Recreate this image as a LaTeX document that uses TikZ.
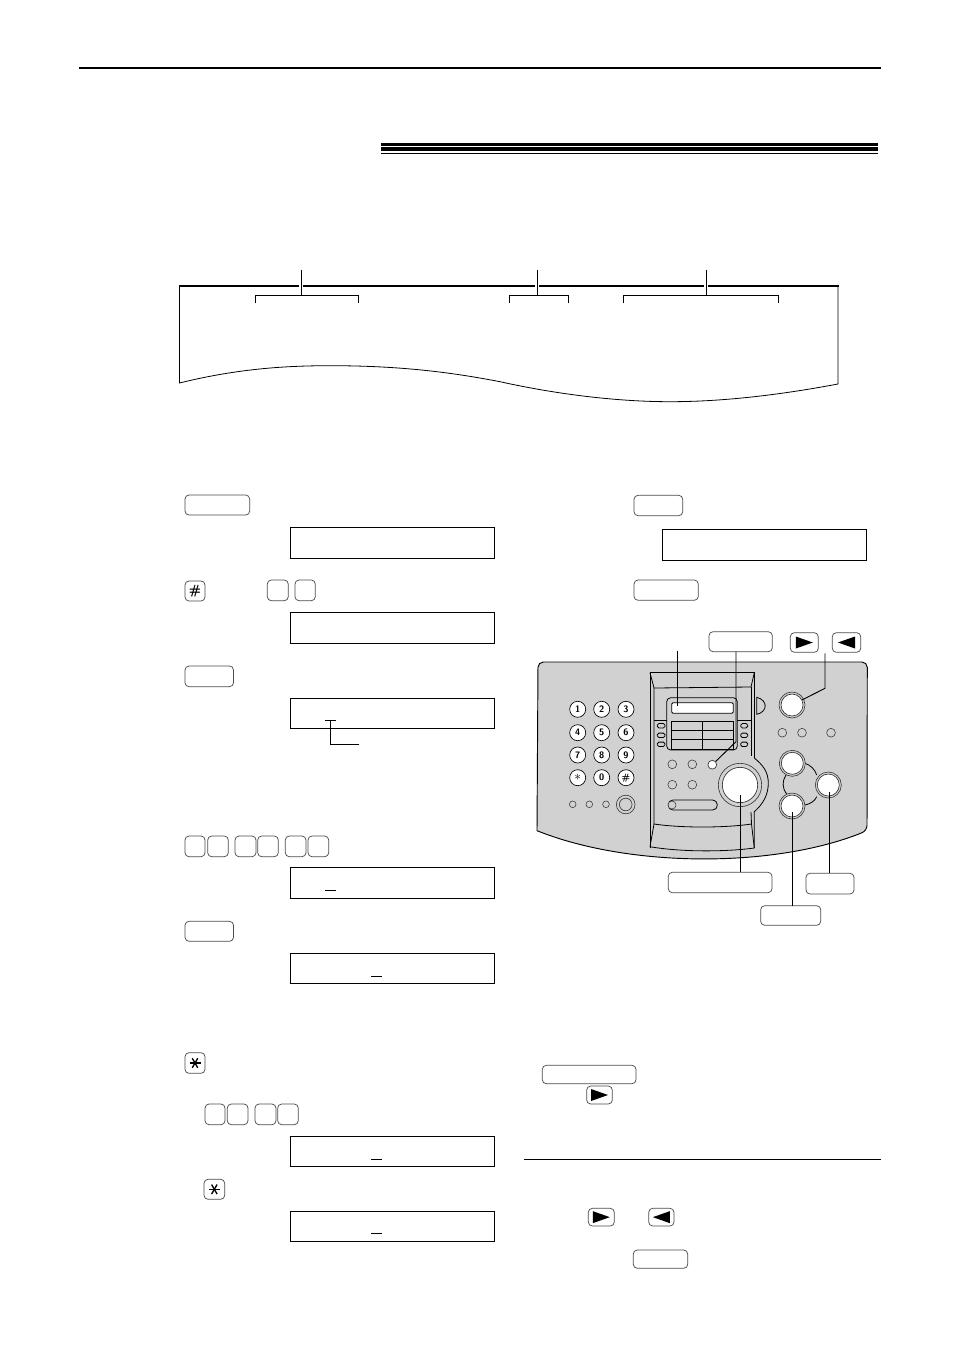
\documentclass[tikz,border=0pt]{standalone}
\usepackage{amsmath,amssymb,amsfonts}
\definecolor{panelgray}{gray}{0.82}
\newcommand{\keyat}[5]{\node[keybox,minimum width={(#4-#2)*.75pt},minimum height={(#5-#3)*.75pt}] (#1) at ({(#2+#4)/2},{(#3+#5)/2}) {};}
\newcommand{\lcdat}[5]{\node[lcdbox,minimum width={(#4-#2)*.75pt},minimum height={(#5-#3)*.75pt}] (#1) at ({(#2+#4)/2},{(#3+#5)/2}) {};}
\newcommand{\starmark}[1]{\foreach \a in {0,60,120} \draw[line width=1pt] ([shift={(\a:5.5)}]#1.center) -- ([shift={({\a+180}:5.5)}]#1.center);}
\newcommand{\righttri}[1]{\fill ([shift={(-8.5,-6)}]#1.center) -- ([shift={(8.5,0)}]#1.center) -- ([shift={(-8.5,6)}]#1.center) -- cycle;}
\newcommand{\lefttri}[1]{\fill ([shift={(8.5,-6)}]#1.center) -- ([shift={(-8.5,0)}]#1.center) -- ([shift={(8.5,6)}]#1.center) -- cycle;}
\tikzset{
  keybox/.style={draw=black!70,line width=.55pt,rounded corners=3pt,inner sep=0pt,outer sep=0pt},
  lcdbox/.style={draw,line width=.75pt,inner sep=0pt,outer sep=0pt},
  thinline/.style={line width=.6pt},
  leader/.style={line width=.7pt},
  padkey/.style={circle,draw,fill=white,line width=.5pt,minimum size=12pt,inner sep=0pt,font=\sffamily\bfseries\scriptsize},
  smallkey/.style={circle,draw=black!80,fill=panelgray,line width=.4pt,minimum size=6.6pt,inner sep=0pt},
  ringkey/.style={circle,draw=black!80,fill=panelgray,line width=.45pt,inner sep=0pt},
  whitekey/.style={circle,draw=black!80,fill=white,line width=.5pt,inner sep=0pt}
}
\begin{document}
\begin{tikzpicture}[x=.75pt,y=-.75pt]
  \path[fill=white,use as bounding box] (0,0) rectangle (954,1349);
  \draw[line width=1.1pt] (79,68) -- (881,68);
  \fill (381,143) rectangle (878,145.7);
  \fill (381,146.7) rectangle (878,151.3);
  \fill (381,152.7) rectangle (878,154);

  \draw[thinline] (179.5,286) -- (179.5,383) .. controls (240,368) and (290,365.5) .. (335,365.7)
    .. controls (400,366) and (450,372) .. (500,381.7) .. controls (560,395) and (620,401.7) .. (670,401.7)
    .. controls (730,401.7) and (790,393) .. (838,384) -- (838,286);
  \draw[line width=1.6pt] (178.9,286) -- (838.6,286);
  \foreach \n/\cx/\xa/\xb in {1/301/255/358,2/537/509/568,3/706/623/778} {
    \coordinate (stem\n) at (\cx,269.5);
    \coordinate (brace\n) at (\cx,295.3);
    \draw[white,line width=2.6pt] (\cx,282) -- (\cx,290);
    \draw[leader] (stem\n) -- (brace\n);
    \draw[thinline] (\xa,302.7) -- (\xa,295.3) -- (\xb,295.3) -- (\xb,302.7);
  }

  \keyat{menukey}{185}{495}{249.7}{515}
  \lcdat{lcdone}{290.3}{527.3}{494.7}{558.3}
  \keyat{hashkey}{185}{581}{205}{601}
  \node[font=\sffamily\bfseries\normalsize,inner sep=0pt] (hashmark) at (hashkey) {\#};
  \keyat{numa}{267.3}{580}{288.3}{600.7}
  \keyat{numb}{295}{580}{315.3}{600.7}
  \lcdat{lcdtwo}{290.3}{612.3}{494.7}{643.3}
  \keyat{setone}{185}{666}{233.5}{686.7}
  \lcdat{lcdthree}{290.3}{698.7}{494.7}{728.3}
  \coordinate (cursorthree) at (330.3,720.3);
  \coordinate (bendthree) at (330.3,744.3);
  \coordinate (endthree) at (358.7,744.3);
  \draw[leader] (325,720.3) -- (336,720.3);
  \draw[leader] (cursorthree) -- (bendthree) -- (endthree);

  \keyat{numc}{185}{836}{205}{856.7}
  \keyat{numd}{207.7}{836}{228.3}{856.7}
  \keyat{nume}{235}{836}{256}{856.7}
  \keyat{numf}{257.7}{836}{278.3}{856.7}
  \keyat{numg}{285.3}{836}{306}{856.7}
  \keyat{numh}{308}{836}{328.7}{856.7}
  \lcdat{lcdfour}{290.3}{867.3}{494.7}{898.3}
  \draw[leader] (325,890.3) -- (336,890.3);
  \keyat{settwo}{185}{921.3}{233.5}{941.3}
  \lcdat{lcdfive}{290.3}{953.3}{494.7}{983.3}
  \draw[leader] (371,976) -- (382,976);
  \keyat{starone}{185}{1052.7}{205}{1073.3}
  \starmark{starone}
  \keyat{numi}{205}{1104}{225}{1124.7}
  \keyat{numj}{227.3}{1104}{248}{1124.7}
  \keyat{numk}{255}{1104}{276}{1124.7}
  \keyat{numl}{277.7}{1104}{298.3}{1124.7}
  \lcdat{lcdsix}{290.3}{1136.3}{494.7}{1166.3}
  \draw[leader] (371,1159) -- (382,1159);
  \keyat{startwo}{204}{1179.3}{224.7}{1199.3}
  \starmark{startwo}
  \lcdat{lcdseven}{290.3}{1211.3}{494.7}{1241.3}
  \draw[leader] (371,1233) -- (382,1233);

  \keyat{setthree}{634}{495.3}{682.7}{515.7}
  \lcdat{lcdeight}{662.3}{529.3}{866.7}{560.3}
  \keyat{menutwo}{634}{580}{698.3}{600.3}

  \draw[line width=.7pt,fill=panelgray,rounded corners=4pt] (537,830.7) -- (538,662) -- (867.3,662) -- (867,830.7)
    [sharp corners] .. controls (775,868) and (630,868) .. (537,830.7) -- cycle;
  \foreach \n/\lab/\cx/\cy in {1/1/577.7/709.3,2/2/601.7/709.3,3/3/626/709.3,4/4/577.7/732.7,5/5/601.7/732.7,6/6/626/732.7,7/7/577.7/755,8/8/601.7/755,9/9/626/755,0/0/601.7/777.7,h/\#/626/777.7}
    \node[padkey] (pad\n) at (\cx,\cy) {\lab};
  \node[padkey,font=\normalsize] (pads) at (577.7,777.7) {$\ast$};
  \foreach \n/\cx in {1/572.7,2/589.3,3/606}
    \node[smallkey,minimum size=5pt] (led\n) at (\cx,804.3) {};
  \node[ringkey,minimum size=14pt] (dialring) at (625.7,804.5) {};
  \node[ringkey,minimum size=9.5pt] (dialkey) at (625.7,804.5) {};

  \draw[thinline] (650,848) -- (650,672.7) -- (754.3,672.7) -- (754.3,758);
  \draw[thinline] (754.3,758) .. controls (763,765) and (768.3,772) .. (768.3,783) .. controls (768.3,795) and (763,804) .. (754.3,811.7) -- (754.3,848);
  \draw[thinline] (650,672.7) -- (654,688) -- (751,687) -- (754.3,672.7);
  \draw[thinline] (654,688) -- (654,824) .. controls (680,828) and (725,828) .. (751.5,824) -- (751,812);
  \draw[thinline] (751,687) -- (751,756);
  \draw[thinline] (650,846.7) .. controls (680,852) and (725,852) .. (754.3,848);
  \draw[thinline] (650,846.7) -- (654,824);
  \draw[thinline] (754.3,848) -- (751.5,824);
  \draw[thinline] (654,720.7) -- (667,720.7);
  \draw[thinline] (737,720.7) -- (751,720.7);
  \draw[thinline,rounded corners=3pt] (666.7,720.7) -- (666.7,697.7) -- (737.3,697.7) -- (737.3,750) -- (666.7,750) -- cycle;
  \draw[thinline,fill=white,rounded corners=1pt] (671.7,702.7) rectangle (733.3,713.3);
  \draw[thinline] (671.7,721) rectangle (733.3,749.3);
  \draw[thinline] (702.3,721) -- (702.3,749.3);
  \draw[thinline] (671.7,730.7) -- (733.3,730.7);
  \draw[thinline] (671.7,739.3) -- (733.3,739.3);
  \foreach \cy in {725.7,735.3,744.3} {
    \draw[thinline,rounded corners=1.2pt] (657.3,\cy-2.2) rectangle (665,\cy+2.2);
    \draw[thinline,rounded corners=1.2pt] (740.7,\cy-2.2) rectangle (747.7,\cy+2.2);
  }
  \draw[thinline,fill=panelgray] (756.7,697.3) .. controls (768,700) and (768,712) .. (756.7,714.3) -- cycle;
  \node[smallkey] (funca) at (672.3,764.3) {};
  \node[smallkey] (funcb) at (692.3,764.3) {};
  \node[whitekey,minimum size=6.6pt] (menubtn) at (712.3,764.7) {};
  \node[smallkey] (funcc) at (672.3,784.7) {};
  \node[smallkey] (funcd) at (692.3,784.7) {};
  \draw[thinline,rounded corners=3.5pt] (668.3,800) rectangle (717.3,810);
  \node[smallkey,minimum size=6pt] (slotkey) at (672,805) {};
  \node[ringkey,minimum size=32.5pt] (bigring) at (740,785) {};
  \node[whitekey,minimum size=26.5pt] (bigbtn) at (740,785) {};

  \draw[thinline] (805,763.3) .. controls (810,765) and (815,769) .. (816.7,775);
  \draw[thinline] (805,805) .. controls (810,804) and (815,801) .. (816.7,796.7);
  \draw[thinline] (786,775) .. controls (782,781) and (782,788) .. (786.7,794);
  \node[ringkey,minimum size=19.5pt] (arrowring) at (792,705) {};
  \node[whitekey,minimum size=16.5pt] (arrowbtn) at (792,705) {};
  \node[ringkey,minimum size=19.5pt] (upring) at (792.3,763.3) {};
  \node[whitekey,minimum size=16.5pt] (upbtn) at (792.3,763.3) {};
  \node[ringkey,minimum size=19.5pt] (lowring) at (792,806) {};
  \node[whitekey,minimum size=16.5pt] (lowbtn) at (792,806) {};
  \node[ringkey,minimum size=19.5pt] (sidering) at (828.3,785) {};
  \node[whitekey,minimum size=16.5pt] (sidebtn) at (828.3,785) {};
  \foreach \n/\cx/\cy in {a/782.3/732.7,b/802/732.7,c/831/732.7}
    \node[smallkey] (mid\n) at (\cx,\cy) {};

  \keyat{menuthree}{709}{631.7}{772.3}{651.7}
  \keyat{arrowr}{790.3}{632.7}{818.3}{652.3}
  \righttri{arrowr}
  \keyat{arrowl}{832.3}{632.7}{860.7}{652.3}
  \lefttri{arrowl}
  \keyat{widekey}{668.3}{872.3}{772}{892.7}
  \keyat{lowkey}{760.7}{905.7}{820.7}{925.3}
  \keyat{sidekey}{806}{873.3}{854}{894}

  \coordinate (lcdtop) at (677.7,650.5);
  \coordinate (lcdtip) at (677.7,706);
  \draw[leader] (lcdtop) -- (lcdtip);
  \coordinate (menubend) at (736,741.7);
  \draw[leader] (menuthree.south -| menubend) -- (menubend) -- (menubtn);
  \coordinate (arrowtop) at (825,653.3);
  \coordinate (arrowbend) at (825,688.3);
  \draw[leader] (arrowtop) -- (arrowbend) -- (arrowbtn);
  \coordinate (bigtip) at (740.7,795);
  \draw[leader] (widekey.north -| bigtip) -- (bigtip);
  \coordinate (lowtip) at (792,811.7);
  \draw[leader] (lowkey.north -| lowtip) -- (lowtip);
  \coordinate (sidetip) at (829.3,791.7);
  \draw[leader] (sidekey.north -| sidetip) -- (sidetip);

  \keyat{longkey}{542.3}{1065.3}{636}{1083.7}
  \keyat{arrowrb}{586.7}{1086}{612.3}{1104}
  \righttri{arrowrb}
  \draw[line width=.75pt] (524,1159.3) -- (880.7,1159.3);
  \keyat{arrowrc}{588.3}{1208.3}{614.3}{1226}
  \righttri{arrowrc}
  \keyat{arrowlc}{648.7}{1208.3}{674}{1226}
  \lefttri{arrowlc}
  \keyat{setfour}{633.3}{1250}{687.7}{1268.3}
\end{tikzpicture}
\end{document}
